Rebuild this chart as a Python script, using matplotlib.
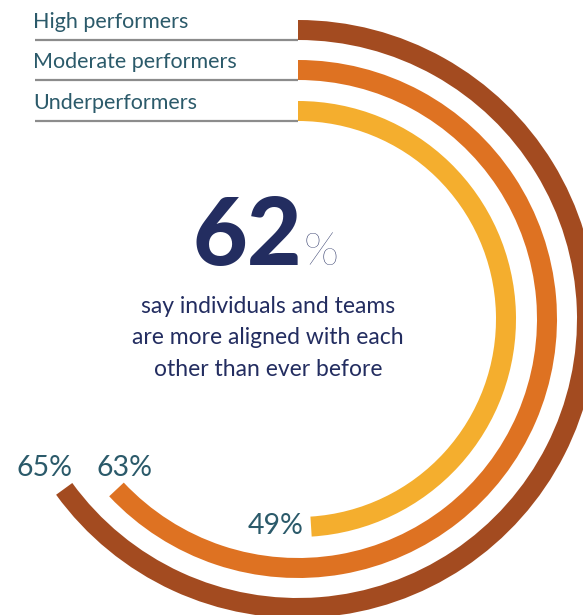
import matplotlib.pyplot as plt
from matplotlib.patches import Wedge

# survey shares per performer group (outer ring first)
groups = ["High performers", "Moderate performers", "Underperformers"]
values = [65, 63, 49]
colors = ["#a34b20", "#de7222", "#f4ae2e"]
headline = 62
headline_text = ["say individuals and teams",
                 "are more aligned with each",
                 "other than ever before"]

W, H = 583, 615
fig = plt.figure(figsize=(W / 100, H / 100), dpi=100)
ax = fig.add_axes([0, 0, 1, 1])
ax.set_xlim(0, W)
ax.set_ylim(H, 0)
ax.axis("off")

cx, cy = 298, 319
radii = [289, 249, 208]
ring = 20
teal = "#2b5a6a"
navy = "#232d60"

# rings start at 12 o'clock and run clockwise (y axis is flipped)
for name, v, r, c in zip(groups, values, radii, colors):
    ax.add_patch(Wedge((cx, cy), r + ring / 2, -90, -90 + 360 * v / 100,
                       width=ring, facecolor=c, edgecolor="none"))
    ly = cy - r + ring / 2
    ax.plot([35, cx], [ly, ly], color="#8c8c8c", lw=1.6, solid_capstyle="butt")
    ax.text(33, ly - 12, name, fontsize=15.5, color=teal, family="Lato",
            ha="left", va="baseline")

# value labels near the ring ends
ax.text(45, 468, f"{values[0]}%", fontsize=20.5, color=teal, family="Lato",
        ha="center", va="center")
ax.text(124, 468, f"{values[1]}%", fontsize=20.5, color=teal, family="Lato",
        ha="center", va="center")
ax.text(304, 526, f"{values[2]}%", fontsize=20.5, color=teal, family="Lato",
        ha="right", va="center")

# headline figure
ax.text(302, 265, str(headline), fontsize=68, color=navy, family="Lato",
        fontweight="black", ha="right", va="baseline")
ax.text(304, 265, "%", fontsize=33, color=navy, family="Lato",
        fontweight="ultralight", ha="left", va="baseline")

for i, line in enumerate(headline_text):
    ax.text(268, 313 + 31.5 * i, line, fontsize=16.5, color=navy, family="Lato",
            ha="center", va="baseline")

fig.savefig("out.png", dpi=100)
